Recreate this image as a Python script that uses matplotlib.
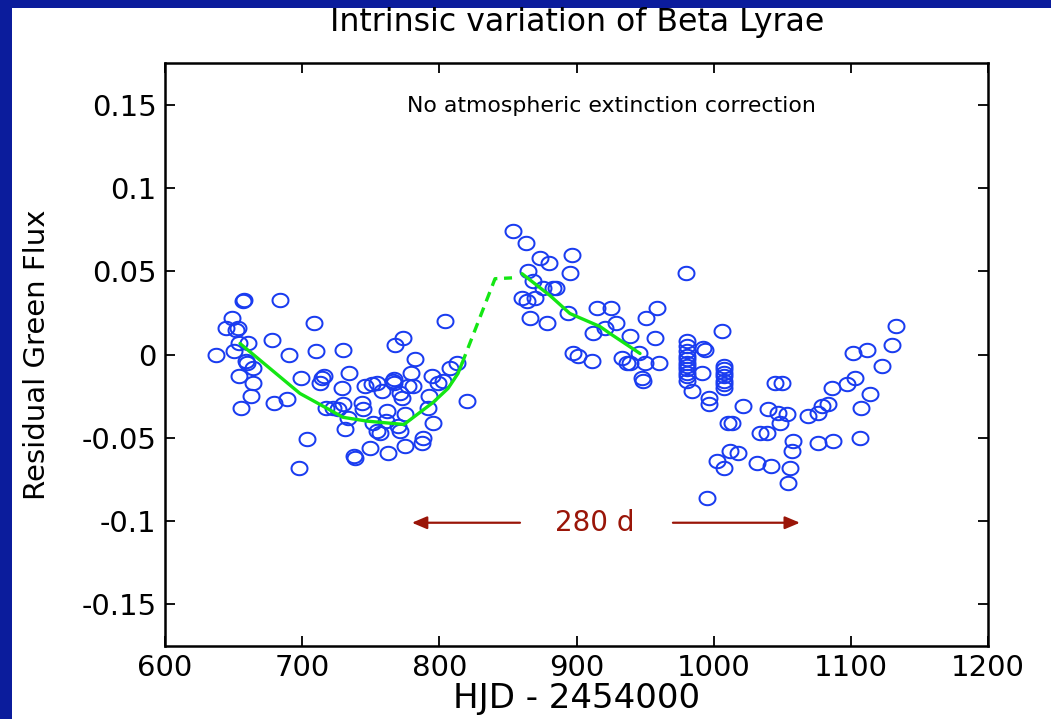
import numpy as np
import matplotlib
matplotlib.use("Agg")
import matplotlib.pyplot as plt
from matplotlib.path import Path
from matplotlib.patches import Rectangle

# ---------------- data ----------------
hjd_a = [637.2, 644.5, 648.8, 651.8, 653.2, 650.3, 656.9, 657.5, 653.9, 660.5,
         659.0, 659.8, 664.2, 653.9, 664.2, 662.7, 655.4, 683.8, 678.0, 690.4,
         679.5, 688.9, 699.1, 708.6, 710.1, 703.5, 697.7, 713.0, 714.5, 715.9,
         729.8, 734.1, 729.0, 717.4, 722.5, 726.1, 729.8, 733.4, 731.2, 737.8,
         738.3, 749.4, 743.6, 744.3, 745.8, 750.9, 754.5, 758.2, 761.8, 751.6,
         754.5, 756.7, 762.6, 761.1, 767.7, 773.5, 766.2, 767.0, 766.6, 771.3,
         772.8, 775.0, 769.9, 771.3, 775.0, 782.3, 779.3, 780.8, 777.1, 787.4,
         788.1, 792.5, 791.7, 795.4, 794.6, 799.0, 802.7, 807.8, 812.9, 804.1,
         820.2]
flux_a = [0.000, 0.016, 0.022, 0.015, 0.016, 0.002, 0.032, 0.033, 0.007, 0.007,
          -0.004, -0.005, -0.008, -0.013, -0.017, -0.025, -0.032, 0.033, 0.009, 0.000,
          -0.029, -0.027, -0.014, 0.019, 0.002, -0.051, -0.068, -0.017, -0.014, -0.013,
          0.003, -0.011, -0.020, -0.032, -0.032, -0.033, -0.030, -0.038, -0.045, -0.061,
          -0.062, -0.056, -0.029, -0.033, -0.019, -0.018, -0.017, -0.022, -0.034, -0.041,
          -0.046, -0.047, -0.059, -0.040, 0.006, 0.010, -0.016, -0.017, -0.015, -0.023,
          -0.026, -0.036, -0.043, -0.046, -0.055, -0.003, -0.011, -0.019, -0.019, -0.053,
          -0.050, -0.025, -0.032, -0.041, -0.013, -0.017, -0.016, -0.008, -0.005, 0.020,
          -0.028]

hjd_b = [853.7, 863.2, 873.4, 880.0, 896.7, 895.2, 864.6, 868.3, 875.6, 882.9,
         885.1, 860.3, 863.9, 869.7, 866.1, 878.5, 893.8, 914.9, 925.1, 928.8,
         912.0, 920.8, 950.6, 958.7, 939.0, 957.2, 897.4, 901.1, 911.3, 933.2,
         936.8, 939.0, 945.6, 949.9, 960.1, 947.7, 948.4]
flux_b = [0.074, 0.067, 0.058, 0.055, 0.060, 0.049, 0.050, 0.044, 0.040, 0.040,
          0.040, 0.034, 0.032, 0.034, 0.022, 0.019, 0.025, 0.028, 0.028, 0.019,
          0.013, 0.016, 0.022, 0.028, 0.011, 0.010, 0.001, -0.001, -0.004, -0.002,
          -0.005, -0.005, 0.001, -0.005, -0.005, -0.014, -0.016]

hjd_c = [979.8, 1006.0,
         980.5, 980.5, 980.5, 980.5, 980.5, 980.5, 980.5, 980.5, 980.5, 980.5, 980.5,
         992.3, 993.5, 991.5, 984.2, 996.6, 996.6,
         1007.5, 1007.5, 1007.5, 1007.5, 1007.5, 1007.5, 1007.5,
         1021.4, 1010.4, 1013.3, 1044.7, 1049.8, 1039.6, 1046.9, 1053.4, 1033.8, 1038.9,
         1048.3, 1057.8, 1057.1, 1011.9, 1017.7, 1002.4, 1007.5, 1031.6, 1041.8, 1055.6,
         1054.2, 995.1]
flux_c = [0.049, 0.014,
          0.008, 0.005, 0.002, -0.001, -0.003, -0.005, -0.007, -0.009, -0.011, -0.013, -0.016,
          0.004, 0.003, -0.011, -0.022, -0.026, -0.030,
          -0.007, -0.009, -0.011, -0.013, -0.016, -0.018, -0.020,
          -0.031, -0.041, -0.041, -0.017, -0.017, -0.033, -0.035, -0.036, -0.047, -0.047,
          -0.041, -0.052, -0.058, -0.058, -0.059, -0.064, -0.068, -0.065, -0.067, -0.068,
          -0.077, -0.086]

hjd_d = [1132.9, 1130.0, 1101.6, 1111.8, 1122.7, 1103.0, 1097.2, 1086.2, 1114.0, 1107.4,
         1083.3, 1078.9, 1076.0, 1068.7, 1106.6, 1087.0, 1076.0]
flux_d = [0.017, 0.006, 0.001, 0.003, -0.007, -0.014, -0.018, -0.020, -0.024, -0.032,
          -0.030, -0.031, -0.035, -0.037, -0.050, -0.052, -0.053]

# green trend segments
trend1_x = [654.7, 698.4, 710.8, 729.8, 747.3, 774.2, 795.4, 806.3, 813.6, 816.5]
trend1_y = [0.0066, -0.0234, -0.029, -0.0377, -0.040, -0.042, -0.0288, -0.0204, -0.0114, -0.0054]
gap_x = [816.5, 840.6, 853.0]
gap_y = [-0.0054, 0.0455, 0.046]
trend2_x = [860.3, 880.8, 895.2, 917.1, 924.4, 946.3]
trend2_y = [0.0485, 0.0353, 0.0246, 0.0168, 0.0126, 0.0006]

period_label = "280 d"
arrow_left = (858.8, 780.0)
arrow_right = (970.3, 1062.9)
arrow_y = -0.101

xticks = [600, 700, 800, 900, 1000, 1100, 1200]
yticks = [-0.15, -0.1, -0.05, 0, 0.05, 0.1, 0.15]
ytick_labels = ["-0.15", "-0.1", "-0.05", "0", "0.05", "0.1", "0.15"]

# ---------------- figure ----------------
fig = plt.figure(figsize=(10.51, 7.19), dpi=100)
fig.patch.set_facecolor("#0b1c9c")
fig.patches.append(Rectangle((12 / 1051, 0), 1, 1 - 8 / 719, transform=fig.transFigure,
                             facecolor="white", edgecolor="none", zorder=-10))

ax = fig.add_axes([165 / 1051, 1 - 646 / 719, 823 / 1051, 583 / 719])
ax.set_facecolor("white")

hjd = np.array(hjd_a + hjd_b + hjd_c + hjd_d)
flux = np.array(flux_a + flux_b + flux_c + flux_d)

t = np.linspace(0, 2 * np.pi, 60)
ell = Path(np.column_stack([np.cos(t), 0.84 * np.sin(t)]), closed=True)
ax.plot(hjd, flux, linestyle="none", marker=ell, markersize=11.5,
        markerfacecolor="none", markeredgecolor="#1a3cf0", markeredgewidth=1.45)

green = "#14e614"
ax.plot(trend1_x, trend1_y, color=green, lw=2.4, solid_capstyle="round")
ax.plot(gap_x, gap_y, color=green, lw=2.4, dashes=(3, 2))
ax.plot(trend2_x, trend2_y, color=green, lw=2.4, solid_capstyle="round")

red = "#9a1508"
for tail, tip in (arrow_left, arrow_right):
    ax.annotate("", xy=(tip, arrow_y), xytext=(tail, arrow_y),
                arrowprops=dict(arrowstyle="-|>,head_length=0.9,head_width=0.38",
                                color=red, lw=1.6, shrinkA=0, shrinkB=0))
ax.text(sum(arrow_left + arrow_right) / 4 - 4.5, arrow_y, period_label, color=red,
        fontsize=20, ha="center", va="center", family="DejaVu Sans")

ax.text(0.543, 0.927, "No atmospheric extinction correction", transform=ax.transAxes,
        fontsize=15.8, ha="center", va="center", family="DejaVu Sans")

ax.set_xlim(600, 1200)
ax.set_ylim(-0.175, 0.175)
ax.set_xticks(xticks)
ax.set_yticks(yticks)
ax.set_yticklabels(ytick_labels)
ax.tick_params(direction="in", length=7, width=1.3, top=True, right=True,
               labelsize=21, pad=6)
for lab in ax.get_xticklabels() + ax.get_yticklabels():
    lab.set_family("DejaVu Sans")
for s in ax.spines.values():
    s.set_linewidth(1.8)

ax.set_xlabel("HJD - 2454000", fontsize=24.5, family="DejaVu Sans", labelpad=0)
ax.set_ylabel("Residual Green Flux", fontsize=21, family="DejaVu Sans", labelpad=22)
fig.text(577 / 1051, 1 - 23 / 719, "Intrinsic variation of Beta Lyrae", fontsize=22.7,
         ha="center", va="center", family="DejaVu Sans")

fig.savefig("out.png", dpi=100, facecolor=fig.get_facecolor())
